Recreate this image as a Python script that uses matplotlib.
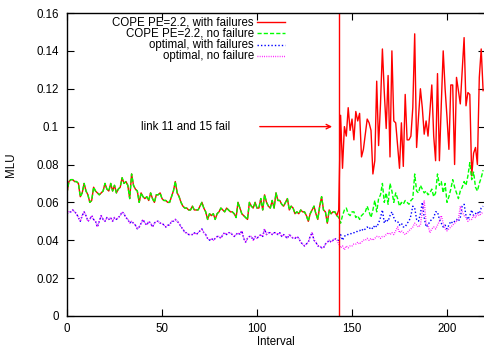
import matplotlib
matplotlib.use("Agg")
import matplotlib.pyplot as plt
from matplotlib.ticker import FormatStrFormatter

plt.rcParams["font.family"] = ["Liberation Sans", "DejaVu Sans"]

# intervals before / after the link failure
fail_at = 143
x_before = list(range(0, fail_at))
x_after = list(range(fail_at, 220))

# COPE PE=2.2, identical for both cases before the failure
cope_before = [
    0.065, 0.071, 0.072, 0.072, 0.071, 0.071, 0.070, 0.063, 0.065, 0.070,
    0.066, 0.064, 0.060, 0.061, 0.068, 0.066, 0.065, 0.064, 0.065, 0.066,
    0.070, 0.067, 0.066, 0.070, 0.066, 0.069, 0.065, 0.067, 0.068, 0.073,
    0.070, 0.071, 0.069, 0.062, 0.075, 0.069, 0.067, 0.066, 0.060, 0.065,
    0.063, 0.062, 0.063, 0.061, 0.065, 0.062, 0.060, 0.064, 0.064, 0.065,
    0.062, 0.061, 0.061, 0.060, 0.060, 0.063, 0.066, 0.071, 0.065, 0.063,
    0.060, 0.058, 0.057, 0.057, 0.056, 0.056, 0.058, 0.056, 0.056, 0.056,
    0.058, 0.060, 0.057, 0.055, 0.051, 0.054, 0.053, 0.054, 0.051, 0.054,
    0.055, 0.057, 0.056, 0.055, 0.057, 0.056, 0.055, 0.055, 0.054, 0.052,
    0.060, 0.057, 0.054, 0.053, 0.052, 0.051, 0.060, 0.058, 0.057, 0.060,
    0.057, 0.057, 0.062, 0.056, 0.064, 0.060, 0.058, 0.057, 0.061, 0.057,
    0.065, 0.061, 0.061, 0.059, 0.058, 0.060, 0.062, 0.056, 0.058, 0.057,
    0.054, 0.055, 0.054, 0.056, 0.055, 0.055, 0.053, 0.050, 0.054, 0.056,
    0.058, 0.054, 0.051, 0.058, 0.063, 0.056, 0.055, 0.049, 0.056, 0.054,
    0.055, 0.055, 0.053,
]

# optimal routing, identical for both cases before the failure
opt_before = [
    0.054, 0.055, 0.055, 0.056, 0.055, 0.054, 0.052, 0.050, 0.053, 0.055,
    0.053, 0.050, 0.051, 0.053, 0.051, 0.050, 0.047, 0.050, 0.053, 0.051,
    0.050, 0.052, 0.051, 0.052, 0.050, 0.052, 0.051, 0.052, 0.053, 0.055,
    0.054, 0.052, 0.051, 0.049, 0.050, 0.049, 0.048, 0.046, 0.047, 0.049,
    0.051, 0.049, 0.048, 0.050, 0.049, 0.047, 0.049, 0.050, 0.050, 0.049,
    0.049, 0.048, 0.047, 0.048, 0.048, 0.050, 0.050, 0.051, 0.050, 0.049,
    0.047, 0.046, 0.044, 0.044, 0.043, 0.043, 0.043, 0.044, 0.043, 0.044,
    0.045, 0.046, 0.044, 0.043, 0.041, 0.040, 0.041, 0.040, 0.041, 0.042,
    0.042, 0.041, 0.043, 0.044, 0.043, 0.044, 0.044, 0.043, 0.042, 0.043,
    0.044, 0.043, 0.045, 0.041, 0.039, 0.041, 0.042, 0.042, 0.040, 0.042,
    0.041, 0.042, 0.043, 0.042, 0.046, 0.043, 0.044, 0.044, 0.043, 0.044,
    0.044, 0.043, 0.044, 0.042, 0.043, 0.042, 0.041, 0.043, 0.042, 0.041,
    0.041, 0.042, 0.041, 0.039, 0.038, 0.037, 0.038, 0.039, 0.042, 0.044,
    0.040, 0.039, 0.037, 0.037, 0.036, 0.036, 0.038, 0.039, 0.040, 0.039,
    0.040, 0.041, 0.040,
]

cope_fail_after = [
    0.056, 0.106, 0.078, 0.100, 0.095, 0.110, 0.098, 0.104, 0.093, 0.108,
    0.103, 0.107, 0.084, 0.088, 0.096, 0.104, 0.102, 0.098, 0.075, 0.082,
    0.124, 0.090, 0.112, 0.141, 0.118, 0.099, 0.127, 0.084, 0.140, 0.103,
    0.102, 0.090, 0.078, 0.102, 0.079, 0.117, 0.093, 0.093, 0.095, 0.110,
    0.149, 0.089, 0.105, 0.120, 0.110, 0.096, 0.103, 0.095, 0.108, 0.122,
    0.095, 0.082, 0.128, 0.082, 0.112, 0.140, 0.120, 0.105, 0.088, 0.122,
    0.122, 0.080, 0.126, 0.119, 0.112, 0.130, 0.147, 0.111, 0.118, 0.117,
    0.074, 0.086, 0.089, 0.080, 0.126, 0.141, 0.119,
]

cope_ok_after = [
    0.052, 0.049, 0.053, 0.056, 0.057, 0.054, 0.053, 0.055, 0.055, 0.052,
    0.053, 0.051, 0.053, 0.054, 0.055, 0.058, 0.055, 0.052, 0.056, 0.061,
    0.055, 0.062, 0.064, 0.070, 0.060, 0.065, 0.059, 0.070, 0.066, 0.060,
    0.065, 0.062, 0.058, 0.060, 0.059, 0.061, 0.060, 0.059, 0.061, 0.062,
    0.075, 0.066, 0.065, 0.069, 0.067, 0.065, 0.066, 0.064, 0.065, 0.067,
    0.063, 0.065, 0.075, 0.069, 0.071, 0.065, 0.070, 0.060, 0.063, 0.067,
    0.072, 0.068, 0.065, 0.062, 0.066, 0.068, 0.071, 0.069, 0.074, 0.081,
    0.072, 0.076, 0.068, 0.066, 0.070, 0.073, 0.077,
]

opt_fail_after = [
    0.040, 0.043, 0.040, 0.042, 0.043, 0.043, 0.043, 0.044, 0.044, 0.044,
    0.045, 0.045, 0.046, 0.045, 0.046, 0.047, 0.046, 0.047, 0.046, 0.048,
    0.047, 0.049, 0.052, 0.056, 0.049, 0.051, 0.050, 0.053, 0.055, 0.052,
    0.050, 0.050, 0.048, 0.049, 0.047, 0.047, 0.049, 0.050, 0.053, 0.058,
    0.057, 0.051, 0.050, 0.054, 0.060, 0.052, 0.047, 0.048, 0.050, 0.051,
    0.052, 0.055, 0.055, 0.051, 0.049, 0.047, 0.048, 0.046, 0.048, 0.050,
    0.049, 0.050, 0.051, 0.050, 0.052, 0.058, 0.059, 0.053, 0.051, 0.053,
    0.056, 0.053, 0.054, 0.055, 0.054, 0.057, 0.058,
]

opt_ok_after = [
    0.038, 0.036, 0.037, 0.035, 0.037, 0.036, 0.037, 0.037, 0.038, 0.038,
    0.039, 0.038, 0.039, 0.040, 0.040, 0.041, 0.040, 0.041, 0.040, 0.041,
    0.042, 0.042, 0.041, 0.042, 0.042, 0.043, 0.044, 0.043, 0.044, 0.043,
    0.045, 0.047, 0.044, 0.045, 0.044, 0.043, 0.044, 0.045, 0.046, 0.047,
    0.049, 0.048, 0.047, 0.048, 0.055, 0.061, 0.049, 0.048, 0.044, 0.046,
    0.047, 0.046, 0.048, 0.050, 0.053, 0.049, 0.046, 0.045, 0.046, 0.047,
    0.048, 0.049, 0.050, 0.051, 0.058, 0.055, 0.053, 0.052, 0.050, 0.051,
    0.051, 0.053, 0.052, 0.054, 0.053, 0.054, 0.055,
]

labels = [
    "COPE PE=2.2, with failures",
    "COPE PE=2.2, no failure",
    "optimal, with failures",
    "optimal, no failure",
]
colors = ["#ff0000", "#00ff00", "#0000ff", "#ff00ff"]
styles = ["-", (0, (3, 1.5)), (0, (1, 1.5)), (0, (0.6, 1))]

x_all = x_before + x_after
series = [
    cope_before + cope_fail_after,
    cope_before + cope_ok_after,
    opt_before + opt_fail_after,
    opt_before + opt_ok_after,
]

fs = 8.3

fig = plt.figure(figsize=(4.84, 3.5), dpi=100)
ax = fig.add_axes([67 / 484, 34 / 350, 418 / 484, 303 / 350])

for y, c, ls in zip(series, colors, styles):
    ax.plot(x_all, y, color=c, linestyle=ls, linewidth=1.0)

ax.axvline(fail_at, color="#ff0000", linewidth=1.0)
ax.annotate("", xy=(fail_at - 2, 0.1), xytext=(100, 0.1),
            arrowprops=dict(arrowstyle="->", color="#ff0000", lw=1.0,
                            mutation_scale=8))
ax.text(86, 0.1, "link 11 and 15 fail", ha="right", va="center", fontsize=fs)

# legend drawn gnuplot style: right aligned text, sample line after it
for i, (lab, c, ls) in enumerate(zip(labels, colors, styles)):
    yy = 0.970 - i * 0.037
    ax.text(0.447, yy, lab, transform=ax.transAxes, ha="right", va="center",
            fontsize=fs)
    ax.plot([0.455, 0.522], [yy, yy], transform=ax.transAxes, color=c,
            linestyle=ls, linewidth=1.0)

ax.set_xlim(0, 220)
ax.set_ylim(0, 0.16)
ax.set_xticks([0, 50, 100, 150, 200])
ax.set_yticks([0, 0.02, 0.04, 0.06, 0.08, 0.1, 0.12, 0.14, 0.16])
ax.yaxis.set_major_formatter(FormatStrFormatter("%g"))
ax.tick_params(direction="in", length=5, width=0.8, labelsize=fs,
               top=True, right=True)
ax.tick_params(axis="x", pad=5)
ax.tick_params(axis="y", pad=6)
for s in ax.spines.values():
    s.set_linewidth(1.0)
ax.set_xlabel("Interval", fontsize=fs, labelpad=1)
ax.set_ylabel("MLU", fontsize=fs, labelpad=14)

fig.savefig("out.png", dpi=100)
